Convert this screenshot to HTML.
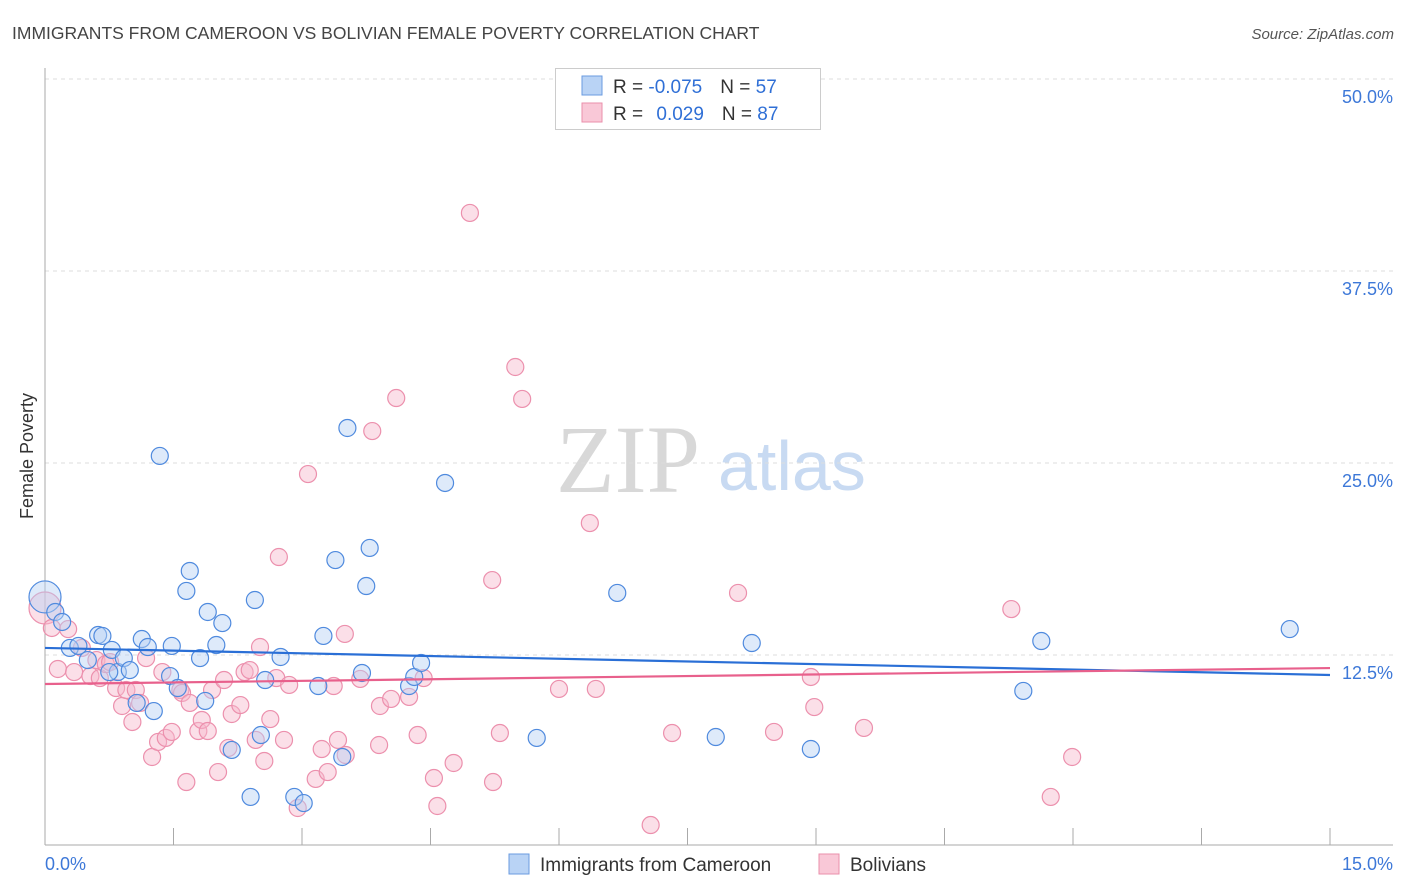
<!DOCTYPE html>
<html><head><meta charset="utf-8"><style>
body{margin:0;background:#fff;font-family:"Liberation Sans",sans-serif;}
#wrap{position:relative;width:1406px;height:892px;overflow:hidden;}
</style></head><body>
<div id="wrap">
<svg id="svg" width="1406" height="892" xmlns="http://www.w3.org/2000/svg">
<text x="12" y="39" font-size="17.5" fill="#444">IMMIGRANTS FROM CAMEROON VS BOLIVIAN FEMALE POVERTY CORRELATION CHART</text>
<text x="1394" y="39" font-size="15" fill="#555" font-style="italic" text-anchor="end">Source: ZipAtlas.com</text>
<text x="33" y="456" font-size="18" fill="#333" text-anchor="middle" transform="rotate(-90 33 456)">Female Poverty</text>
<text x="556" y="492" font-size="96" fill="#d8d8d8" font-family="Liberation Serif,serif">ZIP</text>
<text x="718" y="490" font-size="70" fill="#c8daf2">atlas</text>
<g id="grid"></g><g id="axes"></g><g id="pts"></g><g id="trend"></g>
<g>
<rect x="555.500" y="68.500" width="265" height="61" fill="#fff" stroke="#ccc"/>
<rect x="582" y="76" width="20" height="19" fill="#b9d3f5" stroke="#6a9be0"/>
<rect x="582" y="103" width="20" height="19" fill="#f9c8d7" stroke="#ea8fab"/>
<text x="613" y="93" font-size="19" fill="#333">R = <tspan fill="#2f6fd6">-0.075</tspan><tspan dx="18">N = </tspan><tspan fill="#2f6fd6">57</tspan></text>
<text x="613" y="120" font-size="19" fill="#333">R = <tspan fill="#2f6fd6" dx="8">0.029</tspan><tspan dx="18">N = </tspan><tspan fill="#2f6fd6">87</tspan></text>
</g>
<g>
<rect x="509" y="854" width="20" height="20" fill="#b9d3f5" stroke="#6a9be0"/>
<text x="540" y="871" font-size="19" fill="#333">Immigrants from Cameroon</text>
<rect x="819" y="854" width="20" height="20" fill="#f9c8d7" stroke="#ea8fab"/>
<text x="850" y="871" font-size="19" fill="#333">Bolivians</text>
</g>
</svg>
</div>
<script>
const blueX=[0,0.12,0.20,0.29,0.39,0.62,0.67,0.50,0.78,0.85,0.92,0.99,1.13,1.20,1.34,1.46,1.48,1.55,1.65,1.69,1.81,1.87,1.90,2.00,2.07,2.18,2.40,2.45,2.52,2.57,2.75,2.91,3.02,3.19,3.25,3.39,3.47,3.53,3.70,3.75,3.79,4.25,4.31,4.39,4.67,5.74,6.68,7.83,8.25,8.94,11.42,11.63,14.53,1.27,1.07,0.75];
const blueY=[16.28,15.30,14.65,12.96,13.09,13.80,13.74,12.17,12.83,11.39,12.30,11.52,13.54,13.02,25.46,11.13,13.09,10.35,16.67,17.97,12.30,9.51,15.30,13.15,14.58,6.32,3.26,16.08,7.29,10.87,12.37,3.26,2.86,10.48,13.74,18.68,5.86,27.28,11.33,16.99,19.47,10.48,11.07,11.98,23.70,7.10,16.54,7.16,13.28,6.38,10.16,13.41,14.19,8.85,9.38,11.39];
const pinkX=[0,0.08,0.27,0.15,0.34,0.43,0.53,0.60,0.64,0.71,0.76,0.83,0.90,0.95,1.02,1.06,1.11,1.18,1.25,1.32,1.37,1.41,1.48,1.58,1.60,1.65,1.69,1.79,1.83,1.90,1.95,2.02,2.09,2.14,2.18,2.28,2.33,2.39,2.46,2.51,2.56,2.63,2.70,2.73,2.79,2.85,2.95,3.07,3.16,3.23,3.30,3.37,3.42,3.50,3.51,3.68,3.82,3.90,3.91,4.04,4.10,4.25,4.35,4.42,4.54,4.58,4.77,4.96,5.22,5.23,5.31,5.49,5.57,6.00,6.36,6.43,7.07,7.32,8.09,8.51,8.94,8.98,9.56,11.28,11.74,11.99];
const pinkY=[15.56,14.26,14.19,11.59,11.39,12.96,11.13,12.17,11.00,11.91,12.04,10.35,9.18,10.22,8.14,10.22,9.38,12.30,5.86,6.84,11.39,7.10,7.49,10.22,10.03,4.23,9.38,7.55,8.27,7.55,10.22,4.88,10.87,6.45,8.66,9.24,11.39,11.52,6.97,13.02,5.60,8.33,11.00,18.88,6.97,10.55,2.54,24.28,4.43,6.38,4.88,10.48,6.97,13.87,5.99,10.94,27.08,6.64,9.18,9.64,29.23,9.77,7.29,11.00,4.49,2.67,5.47,41.28,17.38,4.23,7.42,31.25,29.17,10.29,21.09,10.29,1.43,7.42,16.54,7.49,11.07,9.11,7.75,15.49,3.26,5.86];
const blueTrend=[12.96,11.2];
const pinkTrend=[10.61,11.65];
const yTicks=[12.5,25,37.5,50];
const yTickLabels=["12.5%","25.0%","37.5%","50.0%"];
const xTicks=[0,1.5,3,4.5,6,7.5,9,10.5,12,13.5,15];

const NS="http://www.w3.org/2000/svg";
const X0=45,X1=1330;
function sx(v){return X0+(X1-X0)*v/15;}
function sy(v){return 655-(v-12.5)*15.36;}
function mk(tag,attrs,parent){const e=document.createElementNS(NS,tag);for(const k in attrs)e.setAttribute(k,attrs[k]);parent.appendChild(e);return e;}
const grid=document.getElementById('grid'),axes=document.getElementById('axes'),pts=document.getElementById('pts'),trend=document.getElementById('trend');
yTicks.forEach((t,i)=>{
  const l=mk('line',{x1:X0,x2:1393,y1:sy(t),y2:sy(t),stroke:'#ddd','stroke-dasharray':'4,4'},grid);
  
  
  const tx=mk('text',{x:1393,y:sy(t)+24,'font-size':18,fill:'#3d78d8','text-anchor':'end'},grid);
  tx.textContent=yTickLabels[i];
  
  
});
const la=mk('line',{x1:X0,x2:X0,y1:68,y2:845,stroke:'#aaa'},axes);


const lb=mk('line',{x1:X0,x2:1393,y1:845,y2:845,stroke:'#aaa'},axes);


xTicks.forEach(t=>{
  const l=mk('line',{x1:sx(t),x2:sx(t),y1:828,y2:845,stroke:'#aaa'},axes);
  
  
});
const xl0=mk('text',{x:45,y:870,'font-size':18,fill:'#3d78d8'},axes);xl0.textContent='0.0%';


const xl1=mk('text',{x:1393,y:870,'font-size':18,fill:'#3d78d8','text-anchor':'end'},axes);xl1.textContent='15.0%';


function drawPts(xs,ys,fill,stroke,name){
  xs.forEach((x,i)=>{
    const c=mk('circle',{cx:sx(x),cy:sy(ys[i]),r:i===0?16:8.5,fill:fill,'fill-opacity':0.45,stroke:stroke,'stroke-width':1.2},pts);
    
    
  });
}
drawPts(pinkX,pinkY,'#f7b8cb','#ec90ad','point-bolivians');
drawPts(blueX,blueY,'#b5d0f3','#4f8ade','point-cameroon');
const tb=mk('line',{x1:sx(0),x2:sx(15),y1:sy(blueTrend[0]),y2:sy(blueTrend[1]),stroke:'#2a6fd6','stroke-width':2.2},trend);


const tp=mk('line',{x1:sx(0),x2:sx(15),y1:sy(pinkTrend[0]),y2:sy(pinkTrend[1]),stroke:'#e8608c','stroke-width':2.2},trend);


</script>
</body></html>
